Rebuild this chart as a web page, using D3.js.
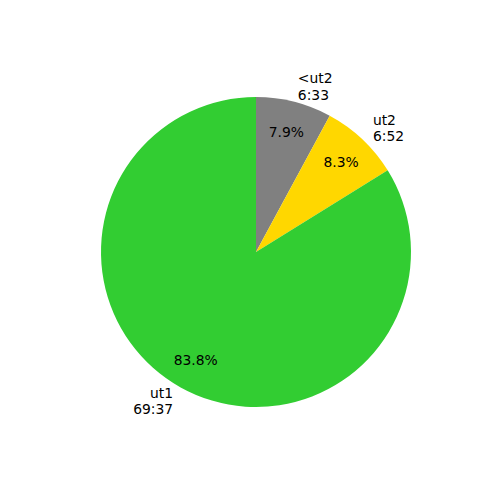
<!DOCTYPE html>
<html><head><meta charset="utf-8">
<script src="https://cdn.jsdelivr.net/npm/d3@7"></script>
<style>body{margin:0;background:#fff}</style>
</head><body>
<svg id="chart" width="500" height="500"></svg>
<script>
const categories = ["<ut2", "ut2", "ut1"];
const timeLabels = ["6:33", "6:52", "69:37"];
const seconds = [393, 412, 4177];
const colors = ["#808080", "#ffd700", "#32cd32"];

const cx = 256, cy = 252, r = 155;
const svg = d3.select("#chart");
const g = svg.append("g").attr("transform", `translate(${cx},${cy})`);
const total = d3.sum(seconds);
const data = categories.map((c, i) => ({c, t: timeLabels[i], v: seconds[i], col: colors[i]}));
const pie = d3.pie().value(d => d.v).sort(null).startAngle(0).endAngle(2 * Math.PI);
const arcs = pie(data);
const arc = d3.arc().innerRadius(0).outerRadius(r);

g.selectAll("path").data(arcs).enter().append("path")
  .attr("d", arc).attr("fill", d => d.data.col);

const font = "DejaVu Sans, sans-serif";
const fs = 13.89;

arcs.forEach(a => {
  const mid = (a.startAngle + a.endAngle) / 2;
  const sx = Math.sin(mid), sy = -Math.cos(mid);
  // percentage
  const px = 0.8 * r * sx, py = 0.8 * r * sy;
  g.append("text").attr("x", px).attr("y", py + 5)
    .attr("text-anchor", "middle").attr("font-family", font).attr("font-size", fs)
    .attr("fill", "#000")
    .text((a.data.v / total * 100).toFixed(1) + "%");
  // label
  const lx = 1.1 * r * sx, ly = 1.1 * r * sy;
  const anchor = lx > 0 ? "start" : "end";
  const t = g.append("text").attr("text-anchor", anchor)
    .attr("font-family", font).attr("font-size", fs).attr("fill", "#000");
  t.append("tspan").attr("x", lx).attr("y", ly - 8.3 + 5).text(a.data.c);
  t.append("tspan").attr("x", lx).attr("y", ly + 8.3 + 5).text(a.data.t);
});
</script>
</body></html>
